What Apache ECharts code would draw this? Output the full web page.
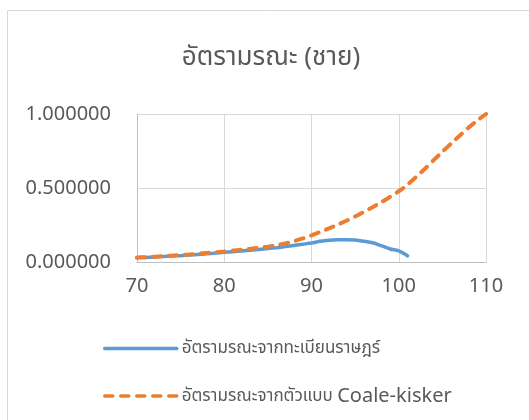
<!DOCTYPE html>
<html>
<head>
<meta charset="utf-8">
<script src="https://cdn.jsdelivr.net/npm/echarts@6/dist/echarts.min.js"></script>
<style>
  html, body { margin: 0; padding: 0; background: #fff; }
  #chart { width: 529px; height: 420px; }
</style>
</head>
<body>
<div id="chart"></div>
<script>
// อายุ (ปี)
const agesRegister = [70, 71, 72, 73, 74, 75, 76, 77, 78, 79, 80, 81, 82, 83, 84, 85,
  86, 87, 88, 89, 90, 91, 92, 93, 94, 95, 96, 97, 98, 99, 100, 101];
const rateRegister = [0.028, 0.031, 0.034, 0.037, 0.040, 0.043, 0.047, 0.051, 0.055, 0.060,
  0.065, 0.070, 0.075, 0.080, 0.085, 0.091, 0.097, 0.104, 0.112, 0.120,
  0.128, 0.140, 0.147, 0.150, 0.151, 0.148, 0.140, 0.130, 0.110, 0.088, 0.075, 0.042];

const agesModel = [70, 71, 72, 73, 74, 75, 76, 77, 78, 79, 80, 81, 82, 83, 84, 85,
  86, 87, 88, 89, 90, 91, 92, 93, 94, 95, 96, 97, 98, 99, 100,
  101, 102, 103, 104, 105, 106, 107, 108, 109, 110];
const rateModel = [0.030, 0.033, 0.036, 0.039, 0.043, 0.047, 0.051, 0.056, 0.061, 0.066,
  0.071, 0.077, 0.083, 0.089, 0.096, 0.104, 0.114, 0.126, 0.141, 0.159,
  0.180, 0.203, 0.227, 0.252, 0.279, 0.308, 0.338, 0.370, 0.404, 0.440,
  0.478, 0.522, 0.575, 0.630, 0.688, 0.745, 0.800, 0.855, 0.908, 0.956, 1.000];

const titleText = 'อัตรามรณะ (ชาย)';
const nameRegister = 'อัตรามรณะจากทะเบียนราษฎร์';
const nameModel = 'อัตรามรณะจากตัวแบบ Coale-kisker';

const pair = (xs, ys) => xs.map((x, i) => [x, ys[i]]);

const chart = echarts.init(document.getElementById('chart'));
const fontFamily = '"Noto Sans", "Noto Sans Thai", "Open Sans", sans-serif';

chart.setOption({
  animation: false,
  textStyle: { fontFamily: fontFamily },
  title: {
    text: titleText,
    left: 266,
    top: 40,
    textAlign: 'center',
    textStyle: { color: '#595959', fontSize: 26, fontWeight: 'normal', fontFamily: fontFamily }
  },
  graphic: [{
    type: 'rect',
    left: 5,
    top: 8,
    shape: { width: 600, height: 500 },
    style: { fill: 'none', stroke: '#d9d9d9', lineWidth: 1 },
    z: -1
  }],
  grid: { left: 137, right: 43, top: 114, bottom: 158 },
  legend: {
    orient: 'vertical',
    left: 98,
    top: 335,
    itemWidth: 72,
    itemHeight: 14,
    itemGap: 29,
    // ซ่อนจุดกลางเส้นในคำอธิบาย
    itemStyle: { opacity: 0 },
    lineStyle: { width: 3.5 },
    textStyle: {
      color: '#595959',
      fontSize: 17,
      fontFamily: fontFamily,
      rich: {
        lat: { color: '#595959', fontSize: 20, fontFamily: fontFamily }
      }
    },
    formatter: name => {
      // ส่วนภาษาอังกฤษตัวใหญ่กว่า
      const m = name.match(/^(.*?)([A-Za-z].*)$/);
      return m ? m[1] + '{lat|' + m[2] + '}' : name;
    },
    data: [nameRegister, nameModel]
  },
  xAxis: {
    type: 'value',
    min: 70,
    max: 110,
    interval: 10,
    axisLine: { show: true, lineStyle: { color: '#bfbfbf', width: 1 } },
    axisTick: { show: false },
    axisLabel: { color: '#595959', fontSize: 20, margin: 14 },
    splitLine: { show: true, lineStyle: { color: '#d9d9d9', width: 1 } }
  },
  yAxis: {
    type: 'value',
    min: 0,
    max: 1,
    interval: 0.5,
    axisLine: { show: true, lineStyle: { color: '#bfbfbf', width: 1 } },
    axisTick: { show: false },
    axisLabel: {
      color: '#595959',
      fontSize: 20,
      margin: 26,
      formatter: v => v.toFixed(6)
    },
    splitLine: { show: true, lineStyle: { color: '#d9d9d9', width: 1 } }
  },
  series: [
    {
      name: nameRegister,
      type: 'line',
      data: pair(agesRegister, rateRegister),
      symbol: 'none',
      smooth: 0.3,
      itemStyle: { color: '#5b9bd5' },
      lineStyle: { color: '#5b9bd5', width: 3.5, cap: 'round' },
      z: 2
    },
    {
      name: nameModel,
      type: 'line',
      data: pair(agesModel, rateModel),
      symbol: 'none',
      smooth: 0.3,
      itemStyle: { color: '#ed7d31' },
      lineStyle: { color: '#ed7d31', width: 4, type: [8, 8], cap: 'round' },
      z: 3
    }
  ]
});
</script>
</body>
</html>
